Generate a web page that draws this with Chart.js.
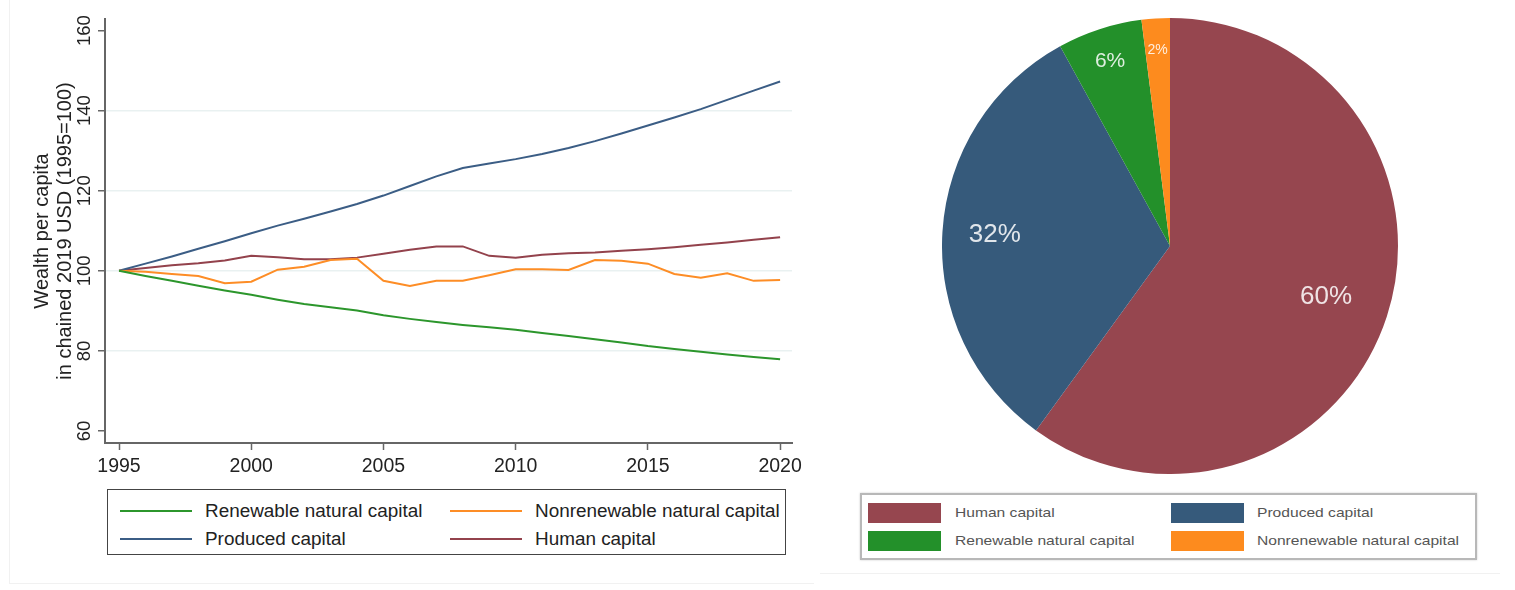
<!DOCTYPE html>
<html>
<head>
<meta charset="utf-8">
<script src="https://cdn.jsdelivr.net/npm/chart.js@4"></script>
<style>
  body { margin: 0; background: #fff; font-family: "Liberation Sans", Arial, sans-serif; }
  .panel { position: absolute; }
  .frame { position: absolute; border-left: 1px solid #f1f1f1; border-bottom: 1px solid #f1f1f1; }
  .legend { position: absolute; box-sizing: border-box; background: #fff; }
  #lineLegend { left: 107px; top: 489px; width: 679px; height: 66px; border: 1px solid #444; }
  #lineLegend .mark { position: absolute; height: 2px; width: 72px; }
  #lineLegend .txt { position: absolute; font-size: 18.9px; color: #222; line-height: 20px; white-space: nowrap; }
  #pieLegend { left: 860px; top: 493px; width: 617px; height: 67px; border: 2px solid #b8b8b8; box-shadow: 0 0 2px #ccc; }
  #pieLegend .sw { position: absolute; width: 73px; height: 20px; }
  #pieLegend .txt { position: absolute; font-size: 13px; color: #555; line-height: 20px; white-space: nowrap; transform: scaleX(1.2); transform-origin: left center; }
</style>
</head>
<body>
<div class="frame" style="left:9px;top:0;width:804px;height:583px"></div>
<div class="frame" style="left:820px;top:0;width:680px;height:573px;border-left:none"></div>

<div class="panel" style="left:0;top:0">
  <canvas id="lineChart" width="810" height="480"></canvas>
</div>
<div id="lineLegend" class="legend"></div>

<div class="panel" style="left:942px;top:18px">
  <canvas id="pieChart" width="456" height="456"></canvas>
</div>
<div id="pieLegend" class="legend"></div>

<script>
/* ============================================
   DATA
   ============================================ */
const years = [1995, 1996, 1997, 1998, 1999, 2000, 2001, 2002, 2003, 2004, 2005, 2006, 2007,
               2008, 2009, 2010, 2011, 2012, 2013, 2014, 2015, 2016, 2017, 2018, 2019, 2020];

const renewable = [100, 98.7, 97.5, 96.3, 95.1, 94.0, 92.8, 91.7, 90.9, 90.1, 88.9, 88.0, 87.2,
                   86.5, 85.9, 85.3, 84.5, 83.7, 82.9, 82.1, 81.2, 80.5, 79.8, 79.1, 78.5, 77.9];
const nonrenewable = [100, 99.8, 99.2, 98.7, 96.9, 97.3, 100.3, 101.0, 102.7, 103.0, 97.5, 96.2, 97.5,
                      97.5, 98.9, 100.4, 100.4, 100.2, 102.7, 102.5, 101.8, 99.2, 98.3, 99.4, 97.5, 97.7];
const produced = [100, 101.8, 103.6, 105.5, 107.4, 109.4, 111.3, 113.0, 114.8, 116.7, 118.8, 121.2, 123.6,
                  125.7, 126.8, 127.9, 129.2, 130.7, 132.4, 134.3, 136.3, 138.3, 140.4, 142.7, 145.0, 147.3];
const human = [100, 100.7, 101.4, 101.9, 102.6, 103.75, 103.4, 102.9, 102.9, 103.3, 104.25, 105.25, 106.1,
               106.1, 103.75, 103.3, 104.0, 104.4, 104.6, 105.0, 105.4, 105.9, 106.5, 107.1, 107.75, 108.4];

const xTicks = [1995, 2000, 2005, 2010, 2015, 2020];
const yTicks = [60, 80, 100, 120, 140, 160];
const yTitle = ['Wealth per capita', 'in chained 2019 USD (1995=100)'];

// legend order (row by row, two columns)
const lineNames = ['Renewable natural capital', 'Nonrenewable natural capital', 'Produced capital', 'Human capital'];
const lineValues = [renewable, nonrenewable, produced, human];
const lineColors = ['#2c962c', '#fd8d26', '#3b5d85', '#93424c'];

const pieLabels = ['Human capital', 'Produced capital', 'Renewable natural capital', 'Nonrenewable natural capital'];
const pieShares = [60, 32, 6, 2];
const pieColors = ['#96464f', '#365a7b', '#23902a', '#fd8b1e'];

// label placement inside slices (style only)
const pieLabelRadius = [0.72, 0.77, 0.85, 0.86];
const pieLabelSize = [26, 26, 21, 14];

const FONT = '"Liberation Sans", Arial, sans-serif';

/* ============================================
   LINE CHART
   ============================================ */
new Chart(document.getElementById('lineChart'), {
    type: 'line',
    data: {
        datasets: lineNames.map((name, i) => ({
            label: name,
            data: years.map((yr, j) => ({ x: yr, y: lineValues[i][j] })),
            borderColor: lineColors[i],
            backgroundColor: lineColors[i],
            borderWidth: 2,
            pointRadius: 0,
            tension: 0
        }))
    },
    options: {
        responsive: false,
        animation: false,
        layout: { padding: { top: 19, right: 18, left: 0, bottom: 0 } },
        plugins: { legend: { display: false }, tooltip: { enabled: false } },
        scales: {
            x: {
                type: 'linear',
                min: 1994.47,
                max: 2020.45,
                afterBuildTicks: (scale) => { scale.ticks = xTicks.map(v => ({ value: v })); },
                afterFit: (scale) => { scale.height = 37; },
                border: { color: '#666', width: 2 },
                grid: { drawOnChartArea: false, tickLength: 7, tickColor: '#666', tickWidth: 1.5 },
                ticks: {
                    padding: 5,
                    color: '#222',
                    maxRotation: 0,
                    font: { family: FONT, size: 19.5 },
                    callback: (v) => String(v)
                }
            },
            y: {
                min: 57,
                max: 162.9,
                afterBuildTicks: (scale) => { scale.ticks = yTicks.map(v => ({ value: v })); },
                afterFit: (scale) => { scale.width = 105; },
                border: { color: '#666', width: 2 },
                grid: {
                    color: (ctx) => (ctx.tick && (ctx.tick.value === 60 || ctx.tick.value === 160)) ? 'rgba(0,0,0,0)' : '#e9f1f1',
                    lineWidth: 1.5,
                    tickLength: 7,
                    tickColor: '#666',
                    tickWidth: 1.5
                },
                ticks: {
                    minRotation: 90,
                    maxRotation: 90,
                    crossAlign: 'center',
                    padding: -2,
                    color: '#222',
                    font: { family: FONT, size: 18.5 }
                },
                title: {
                    display: true,
                    text: yTitle,
                    color: '#222',
                    font: { family: FONT, size: 20, lineHeight: 1.15 },
                    padding: { top: 31, bottom: 0 }
                }
            }
        }
    }
});

// html legend for the line chart
const lineLegend = document.getElementById('lineLegend');
lineNames.forEach((name, i) => {
    const col = i % 2, row = Math.floor(i / 2);
    const top = 20 + row * 28;
    const mark = document.createElement('div');
    mark.className = 'mark';
    mark.style.left = (12 + col * 330) + 'px';
    mark.style.top = top + 'px';
    mark.style.background = lineColors[i];
    const txt = document.createElement('div');
    txt.className = 'txt';
    txt.style.left = (97 + col * 330) + 'px';
    txt.style.top = (top - 9) + 'px';
    txt.textContent = name;
    lineLegend.appendChild(mark);
    lineLegend.appendChild(txt);
});

/* ============================================
   PIE CHART
   ============================================ */
const pieLabelPlugin = {
    id: 'pieLabels',
    afterDatasetsDraw(chart) {
        const { ctx } = chart;
        chart.getDatasetMeta(0).data.forEach((arc, i) => {
            const p = arc.getProps(['x', 'y', 'startAngle', 'endAngle', 'outerRadius'], true);
            const mid = (p.startAngle + p.endAngle) / 2;
            const r = p.outerRadius * pieLabelRadius[i];
            ctx.save();
            ctx.font = `${pieLabelSize[i]}px ${FONT}`;
            ctx.fillStyle = 'rgba(255,255,255,0.85)';
            ctx.textAlign = 'center';
            ctx.textBaseline = 'middle';
            ctx.fillText(pieShares[i] + '%', p.x + Math.cos(mid) * r, p.y + Math.sin(mid) * r);
            ctx.restore();
        });
    }
};

new Chart(document.getElementById('pieChart'), {
    type: 'pie',
    data: {
        labels: pieLabels,
        datasets: [{
            data: pieShares,
            backgroundColor: pieColors,
            borderWidth: 0
        }]
    },
    options: {
        responsive: false,
        animation: false,
        plugins: { legend: { display: false }, tooltip: { enabled: false } }
    },
    plugins: [pieLabelPlugin]
});

// html legend for the pie
const pieLegend = document.getElementById('pieLegend');
pieLabels.forEach((name, i) => {
    const col = i % 2, row = Math.floor(i / 2);
    const top = 8 + row * 28;
    const sw = document.createElement('div');
    sw.className = 'sw';
    sw.style.left = (6 + col * 303) + 'px';
    sw.style.top = top + 'px';
    sw.style.background = pieColors[i];
    const txt = document.createElement('div');
    txt.className = 'txt';
    txt.style.left = (93 + col * 302) + 'px';
    txt.style.top = top + 'px';
    txt.textContent = name;
    pieLegend.appendChild(sw);
    pieLegend.appendChild(txt);
});
</script>
</body>
</html>
